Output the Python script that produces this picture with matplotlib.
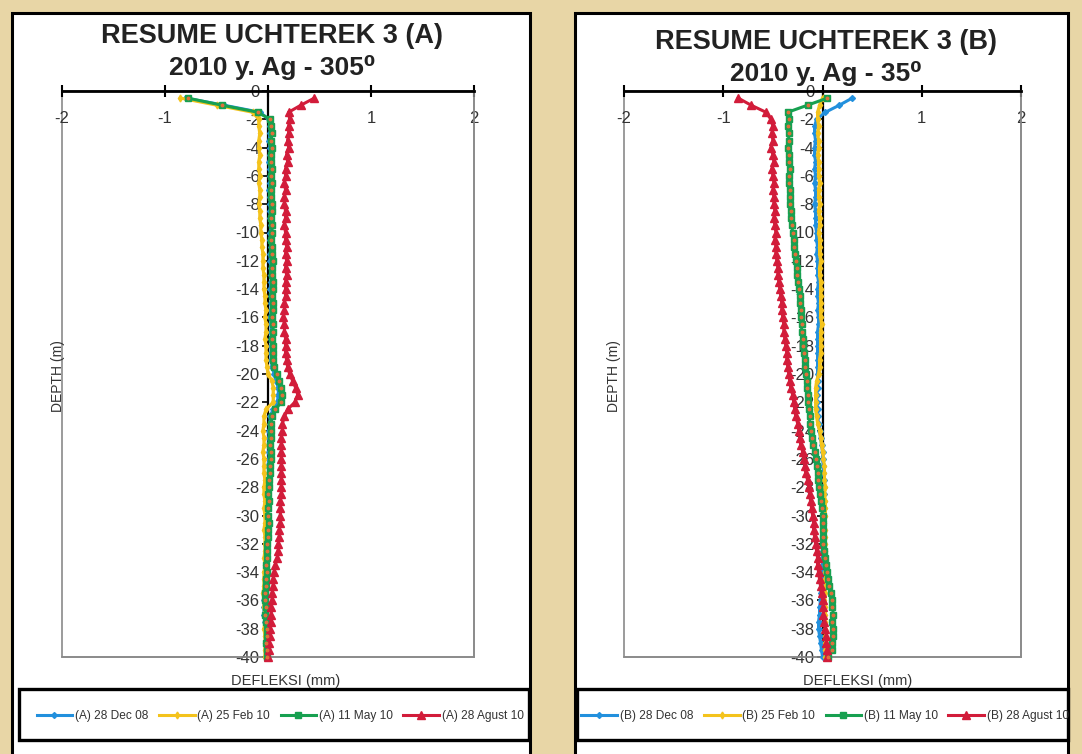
import matplotlib
matplotlib.use("Agg")
import matplotlib.pyplot as plt
from matplotlib.patches import Rectangle

plt.rcParams['font.family'] = ['Liberation Sans', 'DejaVu Sans']

# ---------------- data ----------------
depth = [-0.5, -1.0, -1.5, -2.0, -2.5, -3.0, -3.5, -4.0, -4.5, -5.0,
         -5.5, -6.0, -6.5, -7.0, -7.5, -8.0, -8.5, -9.0, -9.5, -10.0,
         -10.5, -11.0, -11.5, -12.0, -12.5, -13.0, -13.5, -14.0, -14.5, -15.0,
         -15.5, -16.0, -16.5, -17.0, -17.5, -18.0, -18.5, -19.0, -19.5, -20.0,
         -20.5, -21.0, -21.5, -22.0, -22.5, -23.0, -23.5, -24.0, -24.5, -25.0,
         -25.5, -26.0, -26.5, -27.0, -27.5, -28.0, -28.5, -29.0, -29.5, -30.0,
         -30.5, -31.0, -31.5, -32.0, -32.5, -33.0, -33.5, -34.0, -34.5, -35.0,
         -35.5, -36.0, -36.5, -37.0, -37.5, -38.0, -38.5, -39.0, -39.5, -40.0]

labels_a = ["(A) 28 Dec 08", "(A) 25 Feb 10", "(A) 11 May 10", "(A) 28 Agust 10"]
labels_b = ["(B) 28 Dec 08", "(B) 25 Feb 10", "(B) 11 May 10", "(B) 28 Agust 10"]

a_dec08 = [-0.80, -0.43, -0.08, 0.01,
           0.02, 0.02, 0.01, 0.02, 0.02, 0.01, 0.02, 0.02, 0.02, 0.01, 0.02, 0.02,
           0.02, 0.02, 0.03, 0.02, 0.02, 0.03, 0.02, 0.02, 0.03, 0.03, 0.03, 0.02,
           0.03, 0.03, 0.03, 0.02, 0.03, 0.03, 0.03, 0.03, 0.03, 0.03, 0.04,
           0.06, 0.08, 0.10, 0.10, 0.09, 0.05,
           0.02, 0.02, 0.01, 0.01, 0.01, 0.01, 0.01, 0.00, 0.01, 0.00, 0.00, 0.00,
           0.00, -0.01, 0.00, -0.01, -0.01, -0.01, -0.01, -0.02, -0.02, -0.02, -0.03,
           -0.03, -0.03, -0.04, -0.04, -0.04, -0.04, -0.03, -0.03, -0.02, -0.02, -0.02, -0.02]
a_feb10 = [-0.85, -0.50, -0.15, -0.09,
           -0.09, -0.08, -0.09, -0.09, -0.08, -0.09, -0.09, -0.08, -0.09, -0.08,
           -0.08, -0.09, -0.08, -0.08, -0.07, -0.07,
           -0.06, -0.06, -0.05, -0.05, -0.05, -0.04, -0.04, -0.04,
           -0.03, -0.03, -0.02, -0.03, -0.02, -0.02, -0.03, -0.02, -0.02, -0.02, -0.01,
           0.00, 0.04, 0.05, 0.05, 0.05, -0.02,
           -0.04, -0.04, -0.05, -0.04, -0.04, -0.05, -0.04, -0.04, -0.04, -0.03, -0.04,
           -0.04, -0.03, -0.04, -0.03, -0.03, -0.04, -0.03, -0.03, -0.03, -0.04, -0.03,
           -0.04, -0.04, -0.04, -0.05, -0.04, -0.04, -0.03, -0.03, -0.04, -0.03, -0.03,
           -0.03, -0.03]
a_may10 = [-0.78, -0.45, -0.10, 0.02,
           0.03, 0.04, 0.03, 0.04, 0.03, 0.03, 0.04, 0.03, 0.04, 0.03, 0.03, 0.04,
           0.04, 0.03, 0.04, 0.04, 0.03, 0.04, 0.04, 0.05, 0.04, 0.04, 0.05,
           0.05, 0.04, 0.05, 0.05, 0.04, 0.05, 0.05, 0.04, 0.05, 0.05, 0.05, 0.06,
           0.09, 0.11, 0.13, 0.14, 0.13, 0.07, 0.04,
           0.03, 0.03, 0.03, 0.02, 0.03, 0.03, 0.02, 0.02,
           0.01, 0.01, 0.00, 0.01, 0.00, 0.00, 0.01, 0.00, 0.00, -0.01,
           -0.01, -0.01, -0.02, -0.01,
           -0.02, -0.02, -0.03, -0.03, -0.02, -0.03,
           -0.02, -0.01, -0.01, -0.02, -0.01, -0.01]
a_aug10 = [0.45, 0.32, 0.20, 0.21, 0.20, 0.20, 0.19, 0.20, 0.18, 0.19,
           0.17, 0.17, 0.16, 0.17, 0.16, 0.16, 0.17, 0.17, 0.16, 0.17,
           0.17, 0.18, 0.17, 0.18, 0.17, 0.18, 0.17, 0.17, 0.17, 0.16,
           0.16, 0.15, 0.16, 0.16, 0.17, 0.17, 0.17, 0.18, 0.19, 0.21,
           0.24, 0.27, 0.29, 0.26, 0.19, 0.16, 0.14, 0.14, 0.13, 0.13,
           0.13, 0.13, 0.13, 0.13, 0.13, 0.13, 0.13, 0.12, 0.12, 0.12,
           0.12, 0.11, 0.11, 0.10, 0.10, 0.09, 0.07, 0.06, 0.05, 0.05,
           0.04, 0.04, 0.03, 0.03, 0.03, 0.02, 0.02, 0.01, 0.01, 0.00]

b_dec08 = [0.30, 0.17, 0.03, -0.06,
           -0.08, -0.08, -0.07, -0.08, -0.08, -0.07, -0.08, -0.07, -0.08, -0.07,
           -0.07, -0.08, -0.07, -0.07, -0.07, -0.06,
           -0.06, -0.05, -0.06, -0.05, -0.05, -0.05, -0.04, -0.05, -0.05, -0.04,
           -0.05, -0.04, -0.04, -0.05, -0.05, -0.05, -0.05, -0.05, -0.05, -0.05,
           -0.05, -0.05, -0.06, -0.06, -0.05, -0.05, -0.04, -0.03,
           -0.02, -0.01, 0.00, 0.00, 0.01, 0.01, 0.02, 0.02, 0.02, 0.02, 0.02, 0.02,
           0.01, 0.01, 0.01, 0.01, 0.00, 0.00, 0.00, -0.01, -0.01, -0.01, -0.02, -0.02,
           -0.03, -0.03, -0.04, -0.04, -0.03, -0.02, -0.01, 0.00]
b_feb10 = [0.00, -0.03, -0.05, -0.05,
           -0.04, -0.05, -0.04, -0.04, -0.05, -0.04, -0.04, -0.04, -0.03, -0.04,
           -0.04, -0.03, -0.04, -0.03, -0.03, -0.04, -0.03, -0.03, -0.03, -0.02,
           -0.03, -0.03, -0.02, -0.02,
           -0.02, -0.02, -0.02, -0.02, -0.01, -0.02, -0.02, -0.02, -0.02, -0.03, -0.03,
           -0.04,
           -0.06, -0.07, -0.07, -0.07, -0.07, -0.06,
           -0.05,
           -0.03, -0.02, -0.01, 0.00, 0.01,
           0.02, 0.02, 0.02, 0.03, 0.02, 0.03, 0.03, 0.03, 0.02, 0.03, 0.03, 0.03,
           0.03, 0.02, 0.03, 0.03, 0.03, 0.03, 0.03, 0.02, 0.03, 0.03, 0.03, 0.03,
           0.03, 0.03, 0.03, 0.03]
b_may10 = [0.05, -0.15, -0.35, -0.34,
           -0.35, -0.34, -0.34, -0.35, -0.34, -0.34, -0.33, -0.34, -0.34, -0.33,
           -0.33, -0.33,
           -0.32, -0.32, -0.31, -0.30, -0.29, -0.29, -0.28, -0.27,
           -0.26, -0.26, -0.25, -0.24, -0.23, -0.23, -0.22, -0.22,
           -0.21, -0.21, -0.20, -0.20, -0.19, -0.18, -0.18, -0.17,
           -0.16, -0.16, -0.15, -0.15, -0.14, -0.13, -0.13, -0.12,
           -0.11, -0.10, -0.08, -0.07, -0.06, -0.05, -0.05, -0.04,
           -0.03, -0.02, -0.01, 0.00, 0.00, 0.00, 0.01, 0.01,
           0.02, 0.03, 0.04, 0.05, 0.06, 0.07, 0.09, 0.10,
           0.10, 0.11, 0.10, 0.11, 0.11, 0.10, 0.10, 0.06]
b_aug10 = [-0.85, -0.72, -0.57, -0.52,
           -0.50, -0.51, -0.50, -0.52, -0.50, -0.49, -0.51, -0.50, -0.49, -0.50,
           -0.49, -0.49,
           -0.48, -0.49, -0.48, -0.47, -0.48, -0.47, -0.47, -0.46,
           -0.45, -0.45, -0.44, -0.43, -0.42, -0.41, -0.41, -0.40,
           -0.39, -0.39, -0.38, -0.37, -0.36, -0.36, -0.35, -0.34,
           -0.33, -0.32, -0.30, -0.29, -0.28, -0.27, -0.25, -0.24,
           -0.23, -0.22, -0.20, -0.19, -0.18, -0.17, -0.15, -0.14,
           -0.13, -0.12, -0.11, -0.10, -0.09, -0.09, -0.08, -0.07,
           -0.06, -0.05, -0.05, -0.04, -0.03, -0.02, -0.01, 0.00,
           0.01, 0.01, 0.02, 0.03, 0.04, 0.04, 0.05, 0.05]

x_ticks = [-2, -1, 0, 1, 2]
x_ticklabels = ["-2", "-1", "", "1", "2"]
y_ticks = [0, -2, -4, -6, -8, -10, -12, -14, -16, -18, -20, -22, -24, -26, -28,
           -30, -32, -34, -36, -38, -40]

# ---------------- styling ----------------
W, H = 1082, 754
BG = '#e8d6a6'
C_BLUE, C_YEL, C_GRN, C_RED = '#2290dd', '#f4c31c', '#17a050', '#d21c3a'


def fx(px):
    return px / W


def fy(py):
    return 1 - py / H


fig = plt.figure(figsize=(W / 100, H / 100), dpi=100, facecolor=BG)


def rect(x0, y0, x1, y1, lw=2.0, z=-2, fc='white', ec='black'):
    r = Rectangle((fx(x0), fy(y1)), fx(x1) - fx(x0), fy(y0) - fy(y1),
                  transform=fig.transFigure, facecolor=fc, edgecolor=ec,
                  linewidth=lw, zorder=z)
    fig.add_artist(r)


# panels
rect(12, 13, 530, 770, lw=2.2)
rect(575, 13, 1068, 770, lw=2.2)
# legend boxes
rect(19, 689, 529, 740, lw=2.4, z=-1)
rect(577, 689, 1068, 740, lw=2.4, z=-1)


def make_panel(ax_px, series, labels, title1, title2, tpos, xlab_x, ylab_x, leg_x):
    x0, x1 = ax_px
    ax = fig.add_axes([fx(x0), fy(657), fx(x1) - fx(x0), fy(91) - fy(657)])
    ax.set_facecolor('white')
    ax.patch.set_edgecolor('#8a8a8a')
    ax.patch.set_linewidth(1.2)
    ax.set_xlim(-2, 2)
    ax.set_ylim(-40, 0)

    styles = [
        dict(color=C_BLUE, marker='D', ms=3, mfc=C_BLUE, mec=C_BLUE),
        dict(color=C_YEL, marker='d', ms=3.5, mfc=C_YEL, mec=C_YEL),
        dict(color=C_GRN, marker='s', ms=5, mfc=C_GRN, mec=C_GRN),
        dict(color=C_RED, marker='^', ms=6, mfc=C_RED, mec=C_RED),
    ]
    handles = []
    for vals, st, lab in zip(series, styles, labels):
        ln, = ax.plot(vals, depth, lw=2.2, label=lab, clip_on=False, zorder=3, **st)
        handles.append(ln)
        if st['marker'] == 's':
            ax.plot(vals, depth, ls='none', marker='o', ms=1.8, color='#e0703a',
                    clip_on=False, zorder=3.1)

    # spines
    ax.spines['left'].set_position(('data', 0))
    ax.spines['left'].set_color('black')
    ax.spines['left'].set_linewidth(1.6)
    ax.spines['left'].set_zorder(2.5)
    ax.spines['top'].set_color('black')
    ax.spines['top'].set_linewidth(2.0)
    ax.spines['bottom'].set_color('#8a8a8a')
    ax.spines['bottom'].set_linewidth(1.2)
    ax.spines['right'].set_color('#8a8a8a')
    ax.spines['right'].set_linewidth(1.2)

    ax.set_yticks(y_ticks)
    ax.set_yticklabels([str(v) for v in y_ticks])
    ax.tick_params(axis='y', direction='out', length=4, width=1.2, color='black',
                   labelsize=12, labelcolor='#333333', pad=2)
    ax.set_xticks(x_ticks)
    ax.set_xticklabels(x_ticklabels)
    ax.tick_params(axis='x', top=True, bottom=False, labeltop=True, labelbottom=False,
                   direction='inout', length=9, width=1.5, color='black',
                   labelsize=12, labelcolor='#333333', pad=-30)

    fig.text(fx(tpos[0]), fy(tpos[1]), title1, ha='center', va='center',
             fontsize=19.5, fontweight='bold', color='#222222')
    fig.text(fx(tpos[0]), fy(tpos[1] + 32), title2, ha='center', va='center',
             fontsize=19, fontweight='bold', color='#222222')
    fig.text(fx(xlab_x), fy(681), "DEFLEKSI (mm)", ha='center', va='center',
             fontsize=10.5, color='#333333')
    fig.text(fx(ylab_x), fy(376), "DEPTH (m)", ha='center', va='center',
             rotation=90, fontsize=10, color='#333333')
    fig.legend(handles=handles, loc='center', bbox_to_anchor=(fx(leg_x), fy(716)),
               ncol=4, frameon=False, fontsize=8.6, handlelength=3.0,
               handletextpad=0.2, columnspacing=0.9, labelcolor='#333333')
    return ax


make_panel((62, 474), [a_dec08, a_feb10, a_may10, a_aug10], labels_a,
           "RESUME UCHTEREK 3 (A)", "2010 y. Ag - 305\u2070", (272, 36), 286, 58, 280)
make_panel((624, 1021), [b_dec08, b_feb10, b_may10, b_aug10], labels_b,
           "RESUME UCHTEREK 3 (B)", "2010 y. Ag - 35\u2070", (826, 42), 858, 614, 825)

fig.savefig("out.png", dpi=100, facecolor=BG)
